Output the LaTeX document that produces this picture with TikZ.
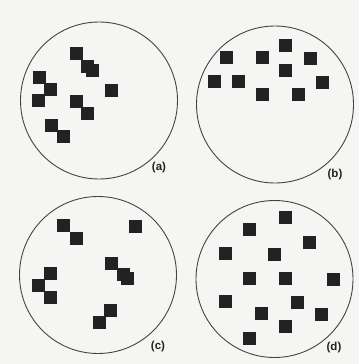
\documentclass[tikz,border=0pt]{standalone}
\usepackage{fontspec}
\usetikzlibrary{positioning}

\newfontfamily\tagfont{Liberation Sans}
\definecolor{paper}{HTML}{F5F5F3}
\definecolor{ink}{HTML}{222222}

\begin{document}
\begin{tikzpicture}[
		x=1pt, y=-1pt,
		% --- ESTILOS ---
		plate/.style = {draw=ink!85, circle, line width=0.9pt, inner sep=0pt, minimum size=157pt},
		cell/.style = {fill=ink, rectangle, inner sep=0pt, minimum size=13pt},
		tag/.style = {font=\tagfont\bfseries\fontsize{11.5}{13}\selectfont, text=ink, inner sep=0pt}
		]
		
		% =========================================================================
		% 1. FONDO Y MARCO
		% =========================================================================
		\fill[paper] (0,0) rectangle (359,364);
		\useasboundingbox (0,0) rectangle (359,364);
		
		% =========================================================================
		% 2. CIRCULOS Y ETIQUETAS
		% =========================================================================
		\node [plate] (platea) at (99,100.5) {};
		\node [plate] (plateb) at (275,104.5) {};
		\node [plate] (platec) at (98,275) {};
		\node [plate] (plated) at (274.5,279) {};
		
		\node [tag] (taga) at (159,168) {(a)};
		\node [tag] (tagb) at (335,175) {(b)};
		\node [tag] (tagc) at (158,347) {(c)};
		\node [tag] (tagd) at (334,348) {(d)};
		
		% =========================================================================
		% 3. CUADROS
		% =========================================================================
		% (a) agrupados en parejas
		\foreach \x/\y [count=\i] in {76/53.3, 87.3/66, 92/70.7, 39/77.3, 50.7/89.3, 38.3/100.7,
				111.7/90, 76/101.7, 87.3/113.3, 51.7/125, 63.3/136.7}
			\node [cell] (cella\i) at (\x,\y) {};
		
		% (b) arriba del circulo
		\foreach \x/\y [count=\i] in {226.7/57.3, 262.3/57.3, 285.7/45.7, 310/58.3, 285.7/70,
				214/81.7, 238.3/81.7, 262.3/94, 298/94.3, 322.3/82.3}
			\node [cell] (cellb\i) at (\x,\y) {};
		
		% (c) grupos pequenos
		\foreach \x/\y [count=\i] in {63.3/225.3, 76/238, 135.7/226.3, 111.7/263, 123.3/274.7,
				127.3/278.7, 50/273.7, 38.3/285.3, 50/297.7, 110.7/310.3, 99/322}
			\node [cell] (cellc\i) at (\x,\y) {};
		
		% (d) repartidos
		\foreach \x/\y [count=\i] in {285.7/217, 249/229.7, 309.7/242, 225.7/253.7, 274/254.3,
				249.7/278.7, 285.7/278.7, 333.3/279.3, 225.7/301.3, 297.3/302,
				261.7/313.7, 321.7/314.3, 285/326, 249/338}
			\node [cell] (celld\i) at (\x,\y) {};
		
	\end{tikzpicture}
\end{document}
